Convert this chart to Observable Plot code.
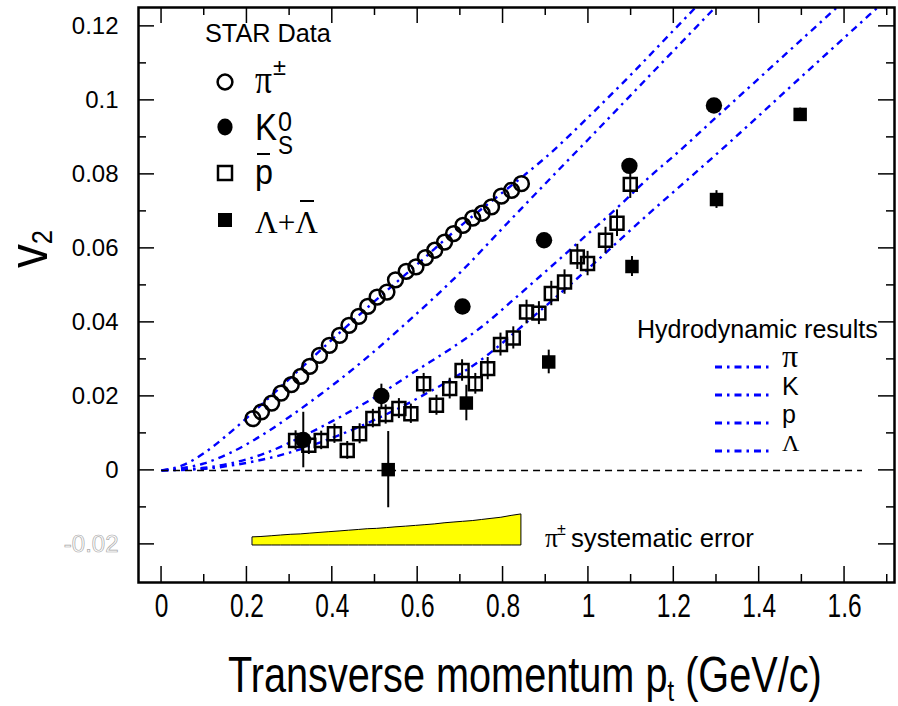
<!DOCTYPE html>
<html><head><meta charset="utf-8">
<script src="https://cdn.jsdelivr.net/npm/d3@7"></script>
<script src="https://cdn.jsdelivr.net/npm/@observablehq/plot@0.6"></script>
<style>body{margin:0;background:#fff} svg{display:block}</style>
</head><body><div id="chart"></div>
<script>
// ---- data ----
const pionPt = [0.214,0.234,0.258,0.280,0.304,0.326,0.347,0.370,0.393,0.417,0.439,0.462,0.483,0.505,0.528,0.548,0.573,0.596,0.618,0.640,0.663,0.684,0.706,0.729,0.751,0.773,0.796,0.820,0.843];
const pionV2 = [0.0140,0.0158,0.0182,0.0209,0.0232,0.0254,0.0281,0.0311,0.0338,0.0365,0.0392,0.0416,0.0443,0.0468,0.0482,0.0515,0.0538,0.0550,0.0575,0.0595,0.0617,0.0640,0.0662,0.0682,0.0695,0.0712,0.0741,0.0757,0.0775];
const pionSys = [0.0022,0.0023,0.0025,0.0027,0.0029,0.0030,0.0032,0.0034,0.0036,0.0038,0.0040,0.0042,0.0044,0.0045,0.0047,0.0049,0.0051,0.0053,0.0055,0.0057,0.0060,0.0062,0.0064,0.0066,0.0069,0.0072,0.0075,0.0080,0.0084];
const sysBase = -0.0203;

const kaonPt = [0.332,0.515,0.705,0.896,1.096,1.294];
const kaonV2 = [0.0082,0.0201,0.0443,0.0622,0.0823,0.0986];
const kaonErr = [0.0075,0.0032,0.0012,0.0012,0.0014,0.0014];

const protonPt = [0.314,0.345,0.374,0.405,0.435,0.464,0.495,0.525,0.556,0.584,0.614,0.644,0.675,0.704,0.735,0.764,0.794,0.824,0.855,0.884,0.913,0.944,0.974,0.998,1.040,1.067,1.098];
const protonV2 = [0.0081,0.0068,0.0081,0.0099,0.0054,0.0099,0.0140,0.0151,0.0167,0.0153,0.0234,0.0176,0.0221,0.0270,0.0234,0.0275,0.0340,0.0358,0.0428,0.0425,0.0478,0.0509,0.0577,0.0559,0.0622,0.0668,0.0773];
const protonErr = [0.0026,0.0025,0.0025,0.0026,0.0024,0.0027,0.0025,0.0026,0.0027,0.0026,0.0028,0.0027,0.0028,0.0029,0.0028,0.0030,0.0031,0.0030,0.0032,0.0031,0.0033,0.0033,0.0034,0.0033,0.0035,0.0036,0.0038];

const lambdaPt = [0.531,0.714,0.907,1.102,1.300,1.496];
const lambdaV2 = [0.0002,0.0182,0.0293,0.0551,0.0732,0.0962];
const lambdaErr = [0.0103,0.0048,0.0032,0.0027,0.0024,0.0017];

// hydrodynamic curves
const hydroPiPt = [0,0.05,0.1,0.15,0.2,0.3,0.4,0.5,0.6,0.7,0.8,0.85,0.9,1.0,1.1,1.2,1.3];
const hydroPiV2 = [0,0.0014,0.0047,0.0092,0.0142,0.0248,0.0354,0.0458,0.0558,0.0660,0.0752,0.0798,0.0846,0.0955,0.1070,0.1190,0.1310];
const hydroKPt = [0,0.1,0.162,0.25,0.3,0.372,0.474,0.575,0.7,0.81,0.92,1.0,1.1,1.2,1.3,1.4];
const hydroKV2 = [0,0.0019,0.0048,0.0106,0.0145,0.0205,0.0298,0.0400,0.0535,0.0668,0.0800,0.0895,0.1015,0.1135,0.1255,0.1375];
const hydroPPt = [0,0.1,0.162,0.24,0.318,0.4,0.5,0.6,0.675,0.75,0.825,0.9,0.98,1.075,1.145,1.21,1.3,1.4,1.5,1.6,1.7];
const hydroPV2 = [0,0.0007,0.0019,0.0045,0.0085,0.0133,0.0198,0.0272,0.0327,0.0388,0.0462,0.0538,0.0620,0.0718,0.0795,0.0860,0.0955,0.1060,0.1165,0.1270,0.1375];
const hydroLPt = [0,0.1,0.162,0.3,0.4,0.5,0.6,0.75,0.86,0.975,1.13,1.31,1.5,1.6,1.7,1.8];
const hydroLV2 = [0,0.0004,0.0013,0.0048,0.0088,0.0137,0.0195,0.0300,0.0405,0.0520,0.0682,0.0865,0.1065,0.1170,0.1275,0.1380];

// ticks
const xLabelTicks = [0,0.2,0.4,0.6,0.8,1,1.2,1.4,1.6];
const xMinorTicks = [0.1,0.3,0.5,0.7,0.9,1.1,1.3,1.5,1.7];
const yLabelTicks = [-0.02,0,0.02,0.04,0.06,0.08,0.1,0.12];
const yMinorTicks = [-0.01,0.01,0.03,0.05,0.07,0.09,0.11];

const zeroLineEnd = 1.642;

// ---- build tables ----
const zip = (xs, ys, es) => xs.map((x,i) => ({x, y: ys[i], lo: es ? ys[i]-es[i] : ys[i], hi: es ? ys[i]+es[i] : ys[i]}));
const pions = zip(pionPt, pionV2);
const kaons = zip(kaonPt, kaonV2, kaonErr);
const protons = zip(protonPt, protonV2, protonErr);
const lambdas = zip(lambdaPt, lambdaV2, lambdaErr);
const sys = pionPt.map((x,i) => ({x, base: sysBase, top: sysBase + pionSys[i]}));
const hydro = [
  ...zip(hydroPiPt, hydroPiV2).map(d => ({...d, s: "pi"})),
  ...zip(hydroKPt, hydroKV2).map(d => ({...d, s: "K"})),
  ...zip(hydroPPt, hydroPV2).map(d => ({...d, s: "p"})),
  ...zip(hydroLPt, hydroLV2).map(d => ({...d, s: "L"}))
];

const fmt = d => String(+(+d).toFixed(2));
const BLUE = "#0000ff";
const DASH = "7,5,2.5,5";
const SANS = "'Liberation Sans', Arial, Helvetica, sans-serif";
const SERIF = "'Liberation Serif', 'Times New Roman', serif";

const chart = Plot.plot({
  width: 898, height: 706,
  marginLeft: 138, marginRight: 4, marginTop: 7, marginBottom: 124,
  style: {fontFamily: SANS, fontSize: "24px", background: "#fff", color: "#000", overflow: "visible"},
  x: {domain: [-0.054, 1.717], ticks: xLabelTicks, tickFormat: fmt, tickSize: 0, tickPadding: 10, label: null},
  y: {domain: [-0.0303, 0.1251], ticks: yLabelTicks, tickFormat: fmt, tickSize: 0, tickPadding: 20, label: null},
  marks: [
    Plot.line(hydro, {x: "x", y: "y", z: "s", curve: "monotone-x", stroke: BLUE, strokeWidth: 2.4, strokeDasharray: DASH, strokeLinecap: "butt", clip: true}),
    Plot.ruleY([0], {x1: 0, x2: zeroLineEnd, stroke: "black", strokeWidth: 1.5, strokeDasharray: "7,5"}),
    Plot.areaY(sys, {x: "x", y1: "base", y2: "top", fill: "#ffff00", stroke: "black", strokeWidth: 1}),
    Plot.ruleX(protons, {x: "x", y1: "lo", y2: "hi", stroke: "black", strokeWidth: 2}),
    Plot.ruleX(lambdas, {x: "x", y1: "lo", y2: "hi", stroke: "black", strokeWidth: 2}),
    Plot.ruleX(kaons, {x: "x", y1: "lo", y2: "hi", stroke: "black", strokeWidth: 2}),
    Plot.dot(pions, {x: "x", y: "y", r: 7.4, stroke: "black", strokeWidth: 2.5, fill: "none"}),
    Plot.dot(protons, {x: "x", y: "y", symbol: "square", r: 7.3, stroke: "black", strokeWidth: 2.5, fill: "none"}),
    Plot.dot(lambdas, {x: "x", y: "y", symbol: "square", r: 7.6, fill: "black", stroke: "none"}),
    Plot.dot(kaons, {x: "x", y: "y", r: 8.2, fill: "black", stroke: "none"}),
    Plot.frame({stroke: "black", strokeWidth: 2.5})
  ]
});
document.getElementById("chart").appendChild(chart);

const svg = d3.select(chart);
const xs = chart.scale("x"), ys = chart.scale("y");
const X = v => xs.apply(v), Y = v => ys.apply(v);
const L = 138, R = 894, T = 7, B = 582;

// clip hydro lines to frame (fallback)
svg.append("defs").append("clipPath").attr("id", "frameclip")
  .append("rect").attr("x", L).attr("y", T).attr("width", R - L).attr("height", B - T);
svg.selectAll('g[aria-label="line"]').attr("clip-path", "url(#frameclip)");

// inward ticks
const tg = svg.append("g").attr("stroke", "black").attr("stroke-width", 1.5);
const xt = [...xLabelTicks.map(v => [v, 16]), ...xMinorTicks.map(v => [v, 8])];
const yt = [...yLabelTicks.map(v => [v, 16]), ...yMinorTicks.map(v => [v, 8])];
for (const [v, len] of xt) {
  tg.append("line").attr("x1", X(v)).attr("x2", X(v)).attr("y1", B).attr("y2", B - len);
  tg.append("line").attr("x1", X(v)).attr("x2", X(v)).attr("y1", T).attr("y2", T + len);
}
for (const [v, len] of yt) {
  tg.append("line").attr("y1", Y(v)).attr("y2", Y(v)).attr("x1", L).attr("x2", L + len);
  tg.append("line").attr("y1", Y(v)).attr("y2", Y(v)).attr("x1", R).attr("x2", R - len);
}

// axis label styling
chart.querySelectorAll('g[aria-label^="x-axis"] text').forEach(t => {
  t.style.fontSize = "34px"; t.style.fontFamily = SANS;
  const n = t.getComputedTextLength();
  t.setAttribute("textLength", n * 0.72);
  t.setAttribute("lengthAdjust", "spacingAndGlyphs");
});
chart.querySelectorAll('g[aria-label^="y-axis"] text').forEach(t => {
  t.style.fontSize = "24px"; t.style.fontFamily = SANS;
  const s = t.textContent.trim();
  if (s === "-0.02" || s === "\u22120.02") {
    t.style.fill = "#ffffff"; t.style.stroke = "#a8a8a8"; t.style.strokeWidth = "0.7px";
  }
});

// text helper with horizontal condensing to a target width
function txt(g, parts, x, y, opts = {}) {
  const t = g.append("text").attr("font-family", opts.family || SANS).attr("font-size", opts.size || 24)
    .attr("fill", "black").attr("text-anchor", "start");
  for (const p of parts) {
    const s = t.append("tspan").text(p.t);
    if (p.size) s.attr("font-size", p.size);
    if (p.dy) s.attr("dy", p.dy);
    if (p.family) s.attr("font-family", p.family);
  }
  let sx = 1;
  if (opts.width) sx = opts.width / t.node().getComputedTextLength();
  t.attr("transform", `translate(${x},${y})${opts.rotate ? ` rotate(${opts.rotate})` : ""} scale(${sx},1)`);
  return t;
}
const ann = svg.append("g");

// axis titles
txt(ann, [{t: "Transverse momentum p"}, {t: "t", size: 30, dy: 9}, {t: " (GeV/c)", dy: -9}], 228, 692, {size: 50, width: 594});
txt(ann, [{t: "v"}, {t: "2", size: 30, dy: 5}], 47, 268, {size: 56, width: 38, rotate: -90});

// STAR data legend
txt(ann, [{t: "STAR Data"}], 205, 42, {size: 25, width: 126});
ann.append("circle").attr("cx", 225).attr("cy", 82).attr("r", 7.4).attr("fill", "none").attr("stroke", "black").attr("stroke-width", 2.5);
ann.append("ellipse").attr("cx", 225).attr("cy", 127).attr("rx", 7.6).attr("ry", 8.4).attr("fill", "black");
ann.append("rect").attr("x", 218).attr("y", 166).attr("width", 14).attr("height", 14).attr("fill", "none").attr("stroke", "black").attr("stroke-width", 2.5);
ann.append("rect").attr("x", 218).attr("y", 213).attr("width", 14).attr("height", 14).attr("fill", "black");
txt(ann, [{t: "\u03c0"}], 255, 93, {size: 42, family: SERIF, width: 17});
txt(ann, [{t: "\u00b1"}], 273, 75, {size: 23, width: 13});
txt(ann, [{t: "K"}], 255, 140, {size: 36, width: 22});
txt(ann, [{t: "0"}], 278, 131, {size: 27, width: 14});
txt(ann, [{t: "S"}], 278, 154, {size: 26, width: 15});
txt(ann, [{t: "p"}], 255, 184, {size: 36, width: 18});
ann.append("line").attr("x1", 257).attr("x2", 270).attr("y1", 154).attr("y2", 154).attr("stroke", "black").attr("stroke-width", 2);
txt(ann, [{t: "\u039b+\u039b"}], 255, 233, {size: 31, family: SERIF, width: 63});
ann.append("line").attr("x1", 300).attr("x2", 314).attr("y1", 201).attr("y2", 201).attr("stroke", "black").attr("stroke-width", 2);

// hydro legend
txt(ann, [{t: "Hydrodynamic results"}], 637, 338, {size: 25, width: 241});
const hyLab = [["\u03c0", SERIF, 32, 367], ["K", SANS, 25, 395], ["p", SANS, 25, 423], ["\u039b", SERIF, 24, 451]];
for (const [lab, fam, sz, yy] of hyLab) {
  ann.append("line").attr("x1", 715).attr("x2", 773).attr("y1", yy).attr("y2", yy)
    .attr("stroke", BLUE).attr("stroke-width", 3).attr("stroke-dasharray", DASH);
  txt(ann, [{t: lab}], 782, yy, {size: sz, family: fam});
}

// systematic error label
txt(ann, [{t: "\u03c0"}], 545, 547, {size: 28, family: SERIF, width: 13});
txt(ann, [{t: "\u00b1"}], 557, 535, {size: 16});
txt(ann, [{t: "systematic error"}], 571, 547, {size: 25, width: 183});
</script>
</body></html>
